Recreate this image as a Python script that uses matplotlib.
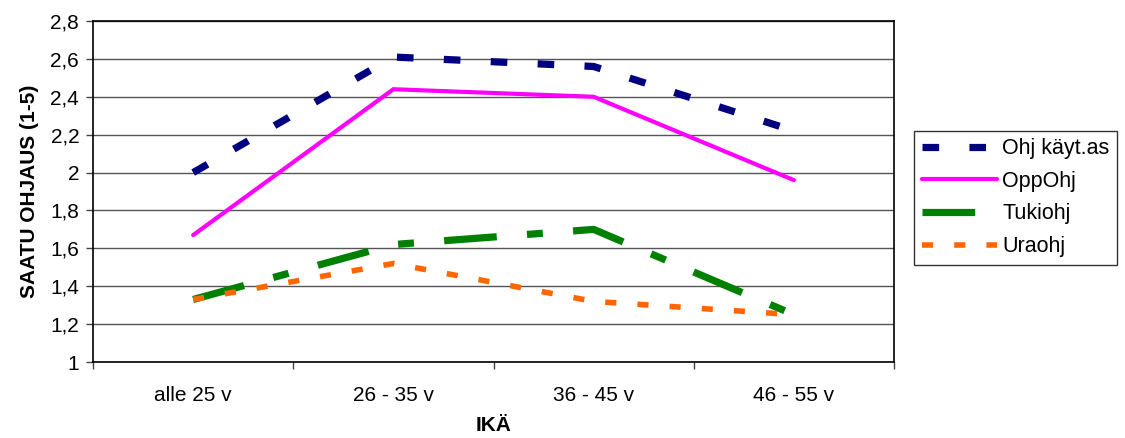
import matplotlib.pyplot as plt
import numpy as np

plt.rcParams['font.family'] = ['Liberation Sans', 'DejaVu Sans']

ika = ['alle 25 v', '26 - 35 v', '36 - 45 v', '46 - 55 v']
ohj_kaytas = [2.00, 2.61, 2.56, 2.22]
oppohj = [1.67, 2.44, 2.40, 1.96]
tukiohj = [1.33, 1.62, 1.70, 1.25]
uraohj = [1.33, 1.52, 1.32, 1.25]

x = np.arange(len(ika))

fig = plt.figure(figsize=(11.25, 4.38), dpi=100)
ax = fig.add_axes([0.0827, 0.1735, 0.7120, 0.7785])

ax.plot(x, ohj_kaytas, color='#000080', lw=5.2, dashes=(2.3, 4.2),
        solid_capstyle='butt', dash_capstyle='butt', label='Ohj käyt.as')
ax.plot(x, oppohj, color='#FF00FF', lw=3, solid_capstyle='round',
        solid_joinstyle='miter', label='OppOhj')
ax.plot(x, tukiohj, color='#008000', lw=5.2, dashes=(7.3, 4.2, 2.2, 4.2),
        dash_capstyle='butt', label='Tukiohj')
ax.plot(x, uraohj, color='#FF6600', lw=4, dashes=(2.0, 3.8),
        dash_capstyle='butt', label='Uraohj')

ax.set_xlim(-0.5, 3.5)
ax.set_ylim(1, 2.8)
ax.set_yticks(np.arange(1, 2.81, 0.2))
ax.set_yticklabels(['1', '1,2', '1,4', '1,6', '1,8', '2', '2,2', '2,4', '2,6', '2,8'])
ax.set_xticks(x)
ax.set_xticklabels(ika)
ax.set_xticks(np.arange(-0.5, 3.6, 1), minor=True)
ax.tick_params(axis='x', which='major', length=0, pad=17, labelsize=15)
ax.tick_params(axis='x', which='minor', length=5, width=1, color='#444444')
ax.tick_params(axis='y', length=5, width=1, color='#444444', labelsize=15, pad=5)
ax.yaxis.grid(True, color='#555555', lw=1)
ax.set_axisbelow(True)
for s in ax.spines.values():
    s.set_color('black')
    s.set_linewidth(1.2)

ax.set_xlabel('IKÄ', fontsize=15, fontweight='bold', labelpad=8)
ax.set_ylabel('SAATU OHJAUS (1-5)', fontsize=15, fontweight='bold', labelpad=8)

leg = ax.legend(loc='center left', bbox_to_anchor=(1.025, 0.482), fontsize=15.5,
                frameon=True, fancybox=False, edgecolor='black',
                handlelength=3.5, handletextpad=0.25, labelspacing=0.54,
                borderpad=0.35, borderaxespad=0)
leg.get_frame().set_linewidth(1)

fig.savefig('out.png', dpi=100, facecolor='white')
